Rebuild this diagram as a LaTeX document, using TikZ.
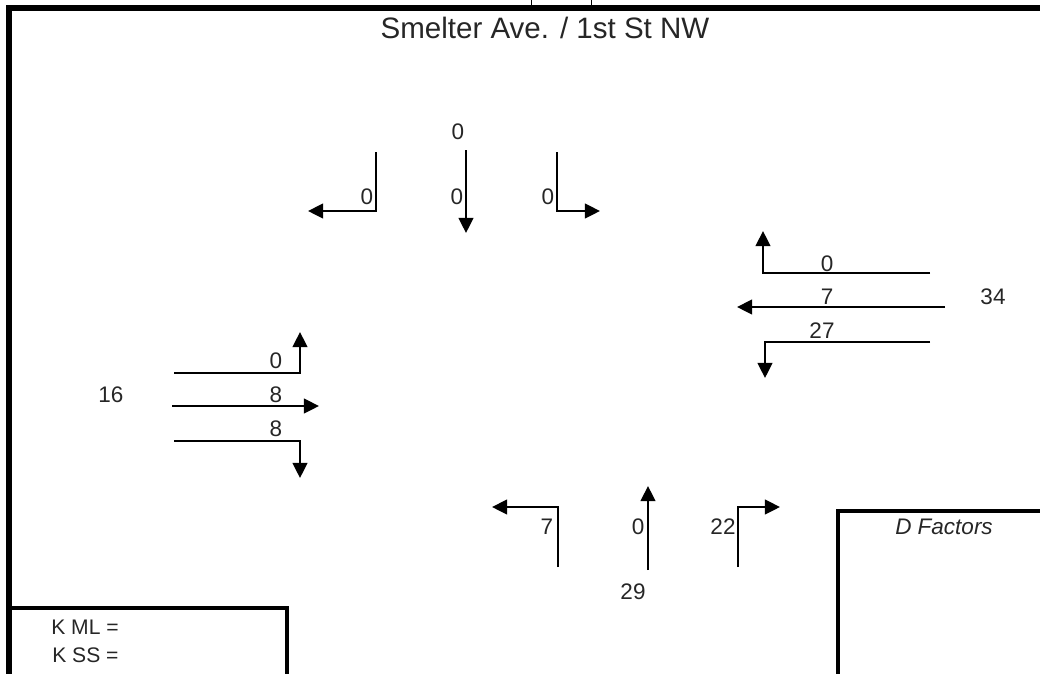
\documentclass[tikz,border=0pt]{standalone}
\usepackage{fontspec}
\setmainfont{Liberation Sans}
\usetikzlibrary{arrows.meta}

\begin{document}
\begin{tikzpicture}[x=0.025cm, y=-0.025cm,
  frame/.style={line width=4.2pt},
  boxline/.style={line width=2.4pt},
  move/.style={line width=1.4pt, -{Triangle[length=0.38cm, width=0.37cm]}},
  vol/.style={font=\fontsize{16}{18}\selectfont, text=black!85, inner sep=0pt},
  ttl/.style={font=\fontsize{21}{24}\selectfont, text=black!85, inner sep=0pt},
  kfac/.style={font=\fontsize{15}{17}\selectfont, text=black!85, inner sep=0pt, anchor=west}
]
\clip (0,0) rectangle (1040,673);

% outer frame and title
\coordinate (fa) at (9,700);
\coordinate (fb) at (9,8);
\coordinate (fc) at (1060,8);
\draw[frame] (fa) -- (fb) -- (fc);
\draw[line width=0.6pt] (531,0) -- (531,5) (591,0) -- (591,5);
\node[ttl] (title) at (545,28) {Smelter Ave. / 1st St NW};

% north approach
\coordinate (nl1) at (376,152);
\coordinate (nl2) at (376,211);
\coordinate (nl3) at (308,211);
\coordinate (nt1) at (466,150);
\coordinate (nt2) at (466,233);
\coordinate (nr1) at (557,152);
\coordinate (nr2) at (557,211);
\coordinate (nr3) at (600,211);
\draw[move] (nl1) -- (nl2) -- (nl3);
\draw[move] (nt1) -- (nt2);
\draw[move] (nr1) -- (nr2) -- (nr3);
\node[vol] (ntot) at (458,132) {0};
\node[vol] (nlv) at (367,197) {0};
\node[vol] (ntv) at (457,197) {0};
\node[vol] (nrv) at (548,197) {0};

% east approach
\coordinate (el1) at (930,273);
\coordinate (el2) at (763,273);
\coordinate (el3) at (763,231);
\coordinate (et1) at (945,307);
\coordinate (et2) at (737,307);
\coordinate (er1) at (930,342);
\coordinate (er2) at (765,342);
\coordinate (er3) at (765,378);
\draw[move] (el1) -- (el2) -- (el3);
\draw[move] (et1) -- (et2);
\draw[move] (er1) -- (er2) -- (er3);
\node[vol] (elv) at (827,264) {0};
\node[vol] (etv) at (827,297) {7};
\node[vol] (erv) at (822,331) {27};
\node[vol] (etot) at (993,297) {34};

% west approach
\coordinate (wl1) at (174,373);
\coordinate (wl2) at (300,373);
\coordinate (wl3) at (300,332);
\coordinate (wt1) at (172,406);
\coordinate (wt2) at (319,406);
\coordinate (wr1) at (174,441);
\coordinate (wr2) at (300,441);
\coordinate (wr3) at (300,478);
\draw[move] (wl1) -- (wl2) -- (wl3);
\draw[move] (wt1) -- (wt2);
\draw[move] (wr1) -- (wr2) -- (wr3);
\node[vol] (wlv) at (276,361) {0};
\node[vol] (wtv) at (276,395) {8};
\node[vol] (wrv) at (276,429) {8};
\node[vol] (wtot) at (111,395) {16};

% south approach
\coordinate (sl1) at (558,567);
\coordinate (sl2) at (558,507);
\coordinate (sl3) at (492,507);
\coordinate (st1) at (648,570);
\coordinate (st2) at (648,486);
\coordinate (sr1) at (738,567);
\coordinate (sr2) at (738,507);
\coordinate (sr3) at (780,507);
\draw[move] (sl1) -- (sl2) -- (sl3);
\draw[move] (st1) -- (st2);
\draw[move] (sr1) -- (sr2) -- (sr3);
\node[vol] (slv) at (547,527) {7};
\node[vol] (stv) at (638,527) {0};
\node[vol] (srv) at (723,527) {22};
\node[vol] (stot) at (633,592) {29};

% K factor box
\coordinate (ka) at (12,608);
\coordinate (kb) at (287,608);
\coordinate (kc) at (287,700);
\draw[boxline] (ka) -- (kb) -- (kc);
\node[kfac] (kml) at (51,627) {K ML =};
\node[kfac] (kss) at (52,655) {K SS =};

% D factor box
\coordinate (da) at (838,700);
\coordinate (db) at (838,511);
\coordinate (dc) at (1060,511);
\draw[boxline, line width=2.8pt] (da) -- (db) -- (dc);
\node[vol, font=\fontsize{16}{18}\selectfont\itshape] (dfac) at (944,527) {D Factors};

\end{tikzpicture}
\end{document}
